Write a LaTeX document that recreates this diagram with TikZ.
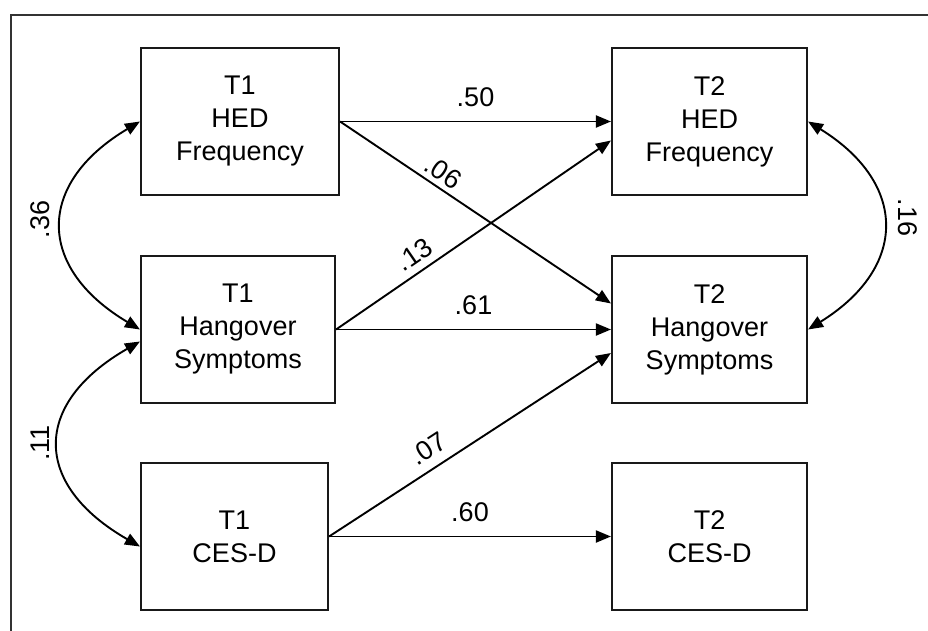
\documentclass[tikz,border=0pt]{standalone}
\usepackage{fontspec}
\setmainfont{Liberation Sans}
\usetikzlibrary{arrows.meta}
\begin{document}
\begin{tikzpicture}[x=1pt,y=-1pt,
  box/.style={draw=black!90, line width=2.1pt, minimum height=147pt, align=center, inner sep=0pt,
              font=\fontsize{27}{33}\selectfont},
  arr/.style={-{Triangle[length=15pt,width=12pt]}, line width=1.9pt},
  dbl/.style={{Triangle[length=15pt,width=12pt]}-{Triangle[length=15pt,width=12pt]}, line width=1.9pt},
  lbl/.style={font=\fontsize{27}{30}\selectfont, inner sep=0pt}]
\useasboundingbox (0,0) rectangle (928,631);
\fill[white] (0,0) rectangle (928,631);
\draw[line width=2.1pt, black!80] (11,631) -- (11,15) -- (928,15);

\node[box, minimum width=198pt] (a1) at (240,121.5) {T1\\HED\\Frequency};
\node[box, minimum width=194pt] (b1) at (238,329.5) {T1\\Hangover\\Symptoms};
\node[box, minimum width=187pt] (c1) at (234.5,536.5) {T1\\CES-D};
\node[box, minimum width=195pt] (a2) at (709.5,121.5) {T2\\HED\\Frequency};
\node[box, minimum width=195pt] (b2) at (709.5,329.5) {T2\\Hangover\\Symptoms};
\node[box, minimum width=195pt] (c2) at (709.5,536.5) {T2\\CES-D};

\draw[arr] (a1.east) -- node[lbl, midway, above=14pt] {.50} (a2.west);
\draw[arr] (a1.east) -- node[lbl, pos=0.35, sloped, above=5pt] {.06} ([yshift=26pt]b2.west);
\draw[arr] (b1.east) -- node[lbl, pos=0.32, sloped, above=7pt] {.13} ([yshift=-19pt]a2.west);
\draw[arr] (b1.east) -- node[lbl, midway, above=14pt] {.61} (b2.west);
\draw[arr] (c1.east) -- node[lbl, pos=0.39, sloped, above=9pt] {.07} ([yshift=-23.5pt]b2.west);
\draw[arr] (c1.east) -- node[lbl, midway, above=14pt] {.60} (c2.west);

\draw[dbl] (a1.west) .. controls +(-104,62) and +(-104,-62) .. (b1.west)
  node[lbl, pos=0.5, xshift=-22pt, yshift=6pt, rotate=90] {.36};
\draw[dbl] ([yshift=-12pt]b1.west) .. controls +(-108,62) and +(-108,-62) .. ([yshift=-10pt]c1.west)
  node[lbl, pos=0.5, xshift=-19pt, yshift=1pt, rotate=90] {.11};
\draw[dbl] (a2.east) .. controls +(100,62) and +(100,-62) .. (b2.east)
  node[lbl, pos=0.5, xshift=25pt, yshift=8pt, rotate=-90] {.16};
\end{tikzpicture}
\end{document}
